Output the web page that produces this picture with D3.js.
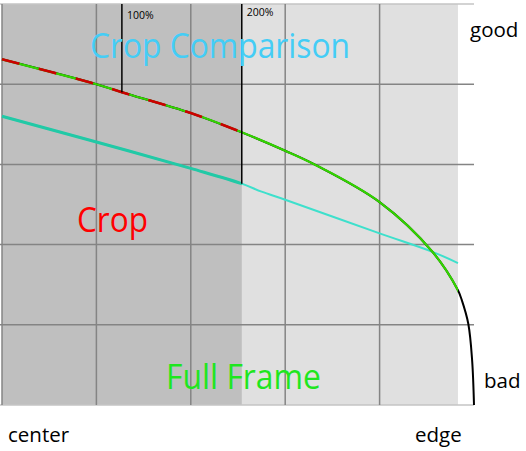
<!DOCTYPE html>
<html>
<head>
<meta charset="utf-8">
<script src="https://cdn.jsdelivr.net/npm/d3@7"></script>
<style>
  body { margin: 0; background: #fff; }
  svg { display: block; font-family: "Open Sans", sans-serif; }
</style>
</head>
<body>
<div id="chart"></div>
<script>
// Grid steps (x: position from center to edge, y: quality)
const xGrid = [0, 1, 2, 3, 4];
const yGrid = [0, 1, 2, 3, 4, 5];

// Full frame curve
const fullX = [0, 1, 1.27, 2, 2.54, 3, 3.31, 4, 4.56, 4.83, 4.87, 4.94, 4.98, 5];
const fullY = [4.31, 4.0, 3.90, 3.64, 3.40, 3.17, 3.0, 2.53, 1.91, 1.43, 1.31, 1.01, 0.56, 0];

// Crop curve
const cropX = [0, 1, 2, 2.54, 2.75, 3, 4, 4.56, 4.83];
const cropY = [3.60, 3.28, 2.95, 2.76, 2.66, 2.56, 2.14, 1.91, 1.77];

// Zoom markers
const markerX = [1.27, 2.54];
const markerEnd = [3.90, 2.76];
const markerLabels = ["100%", "200%"];

// Shaded regions
const cropEdge = 2.54;
const frameEdge = 4.83;

// Dimensions
const dims = {width: 526, height: 451};
const plot = {left: 2, right: 474, top: 4, bottom: 405};

const x = d3.scaleLinear().domain([0, 5]).range([plot.left, plot.right]);
const y = d3.scaleLinear().domain([0, 5]).range([plot.bottom, plot.top]);

const svg = d3.select('#chart')
  .append('svg')
  .attr('width', dims.width)
  .attr('height', dims.height);

const defs = svg.append('defs');
defs.append('clipPath').attr('id', 'clip-crop')
  .append('rect')
    .attr('x', 0).attr('y', 0)
    .attr('width', x(cropEdge)).attr('height', dims.height);
defs.append('clipPath').attr('id', 'clip-frame')
  .append('rect')
    .attr('x', 0).attr('y', 0)
    .attr('width', x(frameEdge)).attr('height', dims.height);

// Backgrounds
svg.append('rect')
  .attr('x', x(0)).attr('y', y(5))
  .attr('width', x(frameEdge) - x(0)).attr('height', y(0) - y(5))
  .attr('fill', '#e0e0e0');
svg.append('rect')
  .attr('x', x(0)).attr('y', y(5))
  .attr('width', x(cropEdge) - x(0)).attr('height', y(0) - y(5))
  .attr('fill', '#bfbfbf');

// Grid
const grid = svg.append('g').attr('class', 'grid');
grid.selectAll('line.h')
  .data(yGrid)
  .enter().append('line')
    .attr('class', 'h')
    .attr('x1', x(0) - 2).attr('x2', x(5))
    .attr('y1', d => y(d)).attr('y2', d => y(d))
    .attr('stroke', d => (d === 0 || d === 5) ? '#c4c4c4' : '#848484')
    .attr('stroke-width', 1.5);
grid.selectAll('line.v')
  .data(xGrid)
  .enter().append('line')
    .attr('class', 'v')
    .attr('x1', d => x(d)).attr('x2', d => x(d))
    .attr('y1', y(5)).attr('y2', y(0))
    .attr('stroke', '#848484')
    .attr('stroke-width', 1.5);

// Line generators
const fullData = fullX.map((d, i) => [d, fullY[i]]);
const cropData = cropX.map((d, i) => [d, cropY[i]]);
const line = d3.line()
  .x(d => x(d[0]))
  .y(d => y(d[1]))
  .curve(d3.curveCatmullRom.alpha(0.5));

// Crop line
svg.append('path')
  .attr('d', line(cropData))
  .attr('fill', 'none')
  .attr('stroke', '#3ee0cc')
  .attr('stroke-width', 2);
svg.append('path')
  .attr('d', line(cropData))
  .attr('clip-path', 'url(#clip-crop)')
  .attr('fill', 'none')
  .attr('stroke', '#22c9a6')
  .attr('stroke-width', 3);

// Full frame line: black tail, green body, red dashes inside crop
svg.append('path')
  .attr('d', line(fullData))
  .attr('fill', 'none')
  .attr('stroke', '#000')
  .attr('stroke-width', 2);
svg.append('path')
  .attr('d', line(fullData))
  .attr('clip-path', 'url(#clip-frame)')
  .attr('fill', 'none')
  .attr('stroke', '#33d400')
  .attr('stroke-width', 2.2);
svg.append('path')
  .attr('d', line(fullData))
  .attr('clip-path', 'url(#clip-crop)')
  .attr('fill', 'none')
  .attr('stroke', '#cc0000')
  .attr('stroke-width', 2.6)
  .attr('stroke-dasharray', '18,20');

// Markers
const markers = svg.append('g').attr('class', 'markers');
markers.selectAll('line')
  .data(markerX)
  .enter().append('line')
    .attr('x1', d => x(d)).attr('x2', d => x(d))
    .attr('y1', y(5)).attr('y2', (d, i) => y(markerEnd[i]))
    .attr('stroke', '#000')
    .attr('stroke-width', 1.5);
markers.selectAll('text')
  .data(markerX)
  .enter().append('text')
    .attr('x', d => x(d) + 5)
    .attr('y', (d, i) => i === 0 ? 19 : 16)
    .attr('font-size', 10.5)
    .attr('fill', '#000')
    .text((d, i) => markerLabels[i]);

// Titles
svg.append('text')
  .attr('x', 90).attr('y', 58)
  .attr('font-size', 35)
  .attr('fill', '#44cdf6')
  .attr('textLength', 260).attr('lengthAdjust', 'spacingAndGlyphs')
  .text('Crop Comparison');
svg.append('text')
  .attr('x', 77).attr('y', 232)
  .attr('font-size', 34)
  .attr('fill', '#ff0000')
  .attr('textLength', 71).attr('lengthAdjust', 'spacingAndGlyphs')
  .text('Crop');
svg.append('text')
  .attr('x', 166).attr('y', 389)
  .attr('font-size', 35)
  .attr('fill', '#1fe61f')
  .attr('textLength', 155).attr('lengthAdjust', 'spacingAndGlyphs')
  .text('Full Frame');

// Axis words
const words = [
  {t: 'good', x: 470, y: 37},
  {t: 'bad', x: 484, y: 388},
  {t: 'center', x: 8, y: 442},
  {t: 'edge', x: 415, y: 442}
];
svg.selectAll('text.word')
  .data(words)
  .enter().append('text')
    .attr('class', 'word')
    .attr('x', d => d.x).attr('y', d => d.y)
    .attr('font-size', 20.5)
    .attr('fill', '#000')
    .text(d => d.t);
</script>
</body>
</html>
